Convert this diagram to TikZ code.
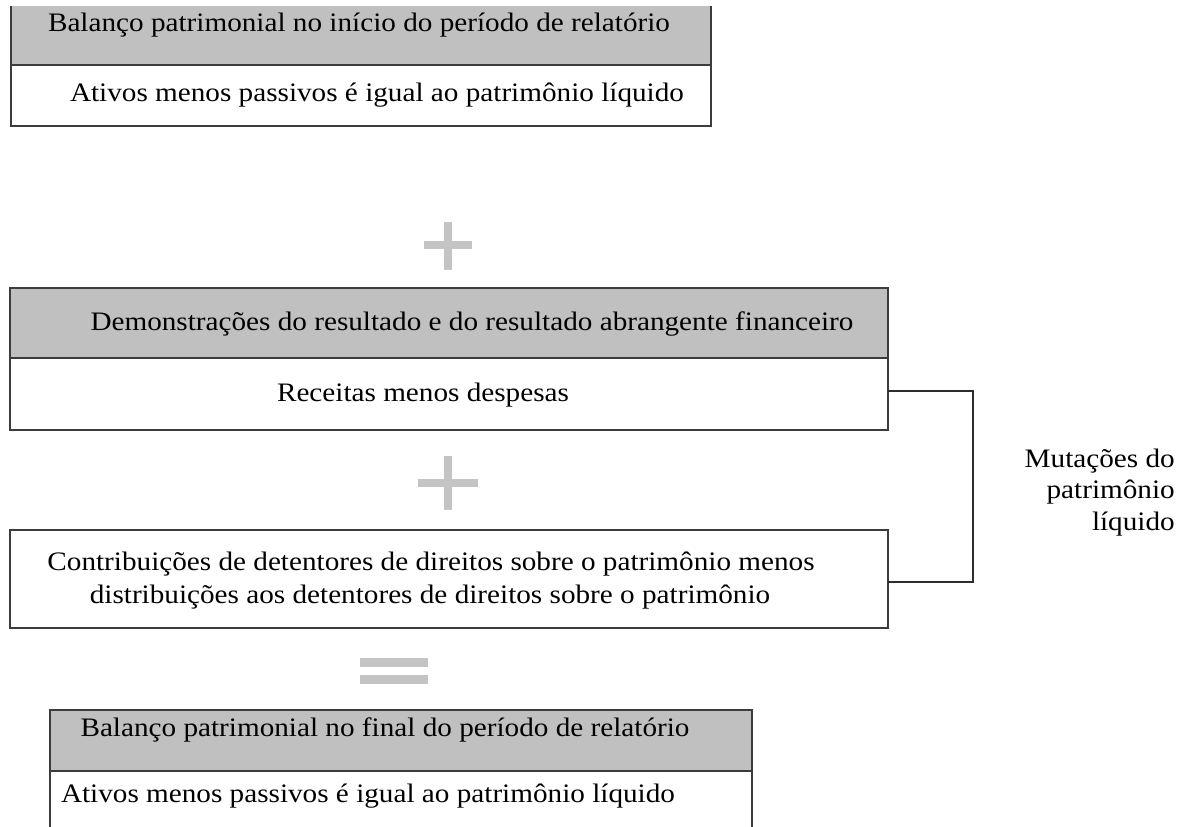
\documentclass[tikz,border=0pt]{standalone}
\usepackage{graphicx}
\usepackage{fontspec}
\setmainfont{Liberation Serif}
\definecolor{hdrgray}{RGB}{192,192,192}
\definecolor{signgray}{RGB}{196,196,196}
\definecolor{edge}{RGB}{60,60,60}
\definecolor{brk}{RGB}{45,45,45}
\newcommand{\wide}[1]{\scalebox{1.095}[1]{#1}}
\tikzset{
  boxline/.style={draw=edge, line width=1.1pt},
  hdr/.style={fill=hdrgray},
  body/.style={boxline, fill=white},
  txt/.style={font=\fontsize{20}{24}\selectfont, inner sep=0pt, text=black, anchor=base},
  lbltxt/.style={txt, anchor=base east},
  sign/.style={fill=signgray, draw=none},
  bracket/.style={draw=brk, line width=1.8pt}
}
\begin{document}
\begin{tikzpicture}[x=0.75pt, y=-0.75pt]
\useasboundingbox (0,0) rectangle (1189,827);
% Box 1 (top edge cut off)
\path[hdr] (11,6) rectangle (711,65);
\draw[boxline] (11,6) -- (11,126) -- (711,126) -- (711,6);
\draw[boxline] (11,65) -- (711,65);
\node[txt] (t1h) at (359,32) {\wide{Balanço patrimonial no início do período de relatório}};
\node[txt] (t1b) at (377,102) {\wide{Ativos menos passivos é igual ao patrimônio líquido}};
% plus 1
\path[sign] (444,222) rectangle (452,270);
\path[sign] (424,241) rectangle (472,249);
% Box 2
\path[hdr, boxline] (10,288) rectangle (888,358);
\path[body] (10,358) rectangle (888,430);
\node[txt] (t2h) at (472,330) {\wide{Demonstrações do resultado e do resultado abrangente financeiro}};
\node[txt] (t2b) at (423,401) {\wide{Receitas menos despesas}};
\coordinate (b2e) at (888,391);
% plus 2
\path[sign] (444,456) rectangle (452,510);
\path[sign] (418,479) rectangle (478,487);
% Box 3
\path[body] (10,530) rectangle (888,628);
\node[txt] (t3a) at (431,570) {\wide{Contribuições de detentores de direitos sobre o patrimônio menos}};
\node[txt] (t3b) at (430,603) {\wide{distribuições aos detentores de direitos sobre o patrimônio}};
\coordinate (b3e) at (888,582);
% equals
\path[sign] (360,658) rectangle (428,667);
\path[sign] (360,675) rectangle (428,684);
% Box 4 (bottom edge cut off)
\path[hdr, boxline] (50,710) rectangle (752,771);
\path[body] (50,771) rectangle (752,832);
\node[txt] (t4h) at (385,736) {\wide{Balanço patrimonial no final do período de relatório}};
\node[txt] (t4b) at (368,802) {\wide{Ativos menos passivos é igual ao patrimônio líquido}};
% bracket
\coordinate (bk1) at (973,391);
\coordinate (bk2) at (973,582);
\draw[bracket] (b2e) -- (bk1) -- (bk2) -- (b3e);
\node[lbltxt] (lbl1) at (1175,467) {\wide{Mutações do}};
\node[lbltxt] (lbl2) at (1175,498) {\wide{patrimônio}};
\node[lbltxt] (lbl3) at (1175,530) {\wide{líquido}};
\end{tikzpicture}
\end{document}
